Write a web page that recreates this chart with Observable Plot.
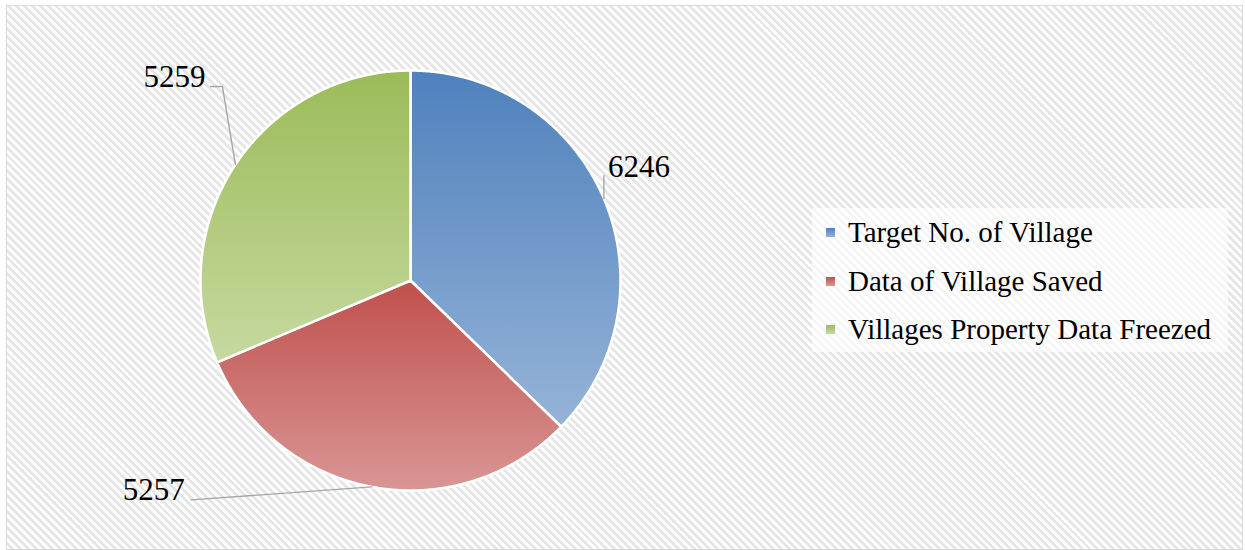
<!DOCTYPE html>
<html><head><meta charset="utf-8">
<script src="https://cdn.jsdelivr.net/npm/d3@7"></script>
<script src="https://cdn.jsdelivr.net/npm/@observablehq/plot@0.6"></script>
<style>
html,body{margin:0;padding:0;background:#fff;}
#wrap{position:relative;width:1245px;height:550px;overflow:hidden;font-family:"Liberation Serif","Times New Roman",serif;}
#frame{position:absolute;left:6px;top:5px;width:1237px;height:545px;border:1.5px solid #d9d9d9;box-sizing:border-box;
 background:repeating-linear-gradient(45deg,#ffffff 0px,#ffffff 2.8px,#e6e6e6 2.8px,#e6e6e6 5.6px);}
#chart{position:absolute;left:0;top:0;}
#legend{position:absolute;left:812px;top:208px;width:416px;height:144px;background:rgba(255,255,255,0.6);}
.item{position:absolute;left:14px;height:34px;display:flex;align-items:center;font-size:29px;color:#000;white-space:nowrap;}
.sw{width:9px;height:9px;margin-right:13px;}
</style>
</head><body>
<svg width="0" height="0" style="position:absolute">
  <defs id="defs"></defs>
</svg>
<div id="wrap"><div id="frame"></div><div id="chart"></div><div id="legend"></div></div>
<script>
// ---- data ----
const categories = ["Target No. of Village", "Data of Village Saved", "Villages Property Data Freezed"];
const values = [6246, 5257, 5259];
const labels = ["6246", "5257", "5259"];

// ---- styles ----
const colorTop = ["#4f81bd", "#c0504d", "#9bbb59"];
const colorBottom = ["#95b3d7", "#d99694", "#c6d9a0"];

// ---- layout ----
const W = 1245, H = 550, CX = 410, CY = 280, R = 210;
// leader line offsets (px) from slice mid-point on the rim, and label offsets
const leaderOffsets = [
  [[0, 0], [0, -23]],
  [[0, 0], [-181, 13]],
  [[0, 0], [-13, -78], [-25, -78]]
];
const labelOffsets = [[4, -22], [-187, 13], [-30, -78]];
const labelAnchors = ["start", "end", "end"];

// gradients
const defs = d3.select("#defs");
categories.forEach((c, i) => {
  const g = defs.append("linearGradient").attr("id", "grad" + i)
    .attr("x1", 0).attr("y1", 0).attr("x2", 0).attr("y2", 1);
  g.append("stop").attr("offset", "0%").attr("stop-color", colorTop[i]);
  g.append("stop").attr("offset", "100%").attr("stop-color", colorBottom[i]);
});

const total = d3.sum(values);
let acc = 0;
const slices = categories.map((c, i) => {
  const a0 = acc / total * 2 * Math.PI;
  acc += values[i];
  const a1 = acc / total * 2 * Math.PI;
  return {c, v: values[i], label: labels[i], a0, a1, mid: (a0 + a1) / 2, i};
});

function arcPoints(s) {
  const pts = [[0, 0]];
  const n = Math.ceil((s.a1 - s.a0) / (Math.PI / 360));
  for (let k = 0; k <= n; k++) {
    const a = s.a0 + (s.a1 - s.a0) * k / n;
    pts.push([Math.sin(a), Math.cos(a)]);
  }
  return pts;
}

const font = '"Liberation Serif","Times New Roman",serif';
const marks = [];
slices.forEach(s => {
  marks.push(Plot.line(arcPoints(s), {
    x: d => d[0], y: d => d[1], curve: "linear-closed",
    fill: `url(#grad${s.i})`, stroke: "#ffffff", strokeWidth: 2.5, strokeLinejoin: "round"
  }));
});
slices.forEach(s => {
  const ex = Math.sin(s.mid), ey = Math.cos(s.mid);
  const pts = leaderOffsets[s.i].map(([dx, dy]) => [ex + dx / R, ey - dy / R]);
  marks.push(Plot.line(pts, {x: d => d[0], y: d => d[1], stroke: "#a6a6a6", strokeWidth: 1.4}));
  const [tx, ty] = labelOffsets[s.i];
  marks.push(Plot.text([s], {
    x: ex + tx / R, y: ey - ty / R, text: d => d.label,
    textAnchor: labelAnchors[s.i], lineAnchor: "bottom",
    fontSize: 31, fontFamily: font, fill: "#000"
  }));
});

const chart = Plot.plot({
  width: W, height: H,
  marginTop: 0, marginBottom: 0, marginLeft: 0, marginRight: 0,
  x: {type: "linear", domain: [-CX / R, (W - CX) / R], axis: null},
  y: {type: "linear", domain: [-(H - CY) / R, CY / R], axis: null},
  style: {background: "transparent", overflow: "visible"},
  marks
});
document.getElementById("chart").appendChild(chart);

// legend
const legend = d3.select("#legend");
const centers = [24.5, 73, 121.5];
categories.forEach((c, i) => {
  const it = legend.append("div").attr("class", "item").style("top", (centers[i] - 17) + "px");
  it.append("div").attr("class", "sw")
    .style("background", `linear-gradient(${colorTop[i]}, ${colorBottom[i]})`);
  it.append("span").text(c);
});
</script>
</body></html>
